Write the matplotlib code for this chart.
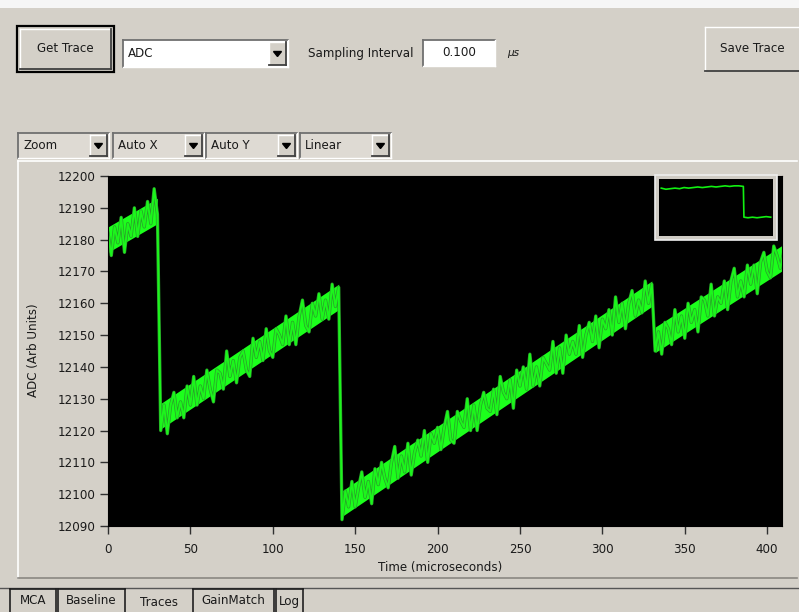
import numpy as np
import matplotlib
matplotlib.use("Agg")
import matplotlib.pyplot as plt
from matplotlib.patches import Rectangle, Polygon
from matplotlib.lines import Line2D

W, H = 799, 612
GREY = "#d4d0c8"

# ADC trace, one sample every 2 microseconds
time_us = np.arange(0, 411, 2)
adc = [
    12182, 12175, 12184, 12179, 12187, 12176, 12185, 12181, 12190, 12181,
    12189, 12184, 12192, 12185, 12196, 12188,
    # after first step
    12120, 12128, 12119, 12128, 12132, 12124, 12129, 12124, 12134, 12128,
    12137, 12128, 12134, 12130, 12139, 12133, 12129, 12139, 12138, 12133,
    12145, 12137, 12142, 12135, 12143, 12145, 12139, 12137, 12149, 12143,
    12148, 12142, 12152, 12145, 12143, 12152, 12150, 12147, 12156, 12147,
    12154, 12147, 12156, 12161, 12153, 12151, 12160, 12156, 12163, 12155,
    12161, 12155, 12166, 12159, 12165,
    # after second step
    12092, 12101, 12096, 12104, 12096, 12102, 12107, 12099, 12104, 12097,
    12108, 12103, 12110, 12105, 12102, 12110, 12115, 12105, 12112, 12107,
    12116, 12106, 12113, 12117, 12112, 12120, 12110, 12119, 12116, 12121,
    12114, 12121, 12126, 12117, 12116, 12126, 12123, 12121, 12130, 12120,
    12128, 12120, 12128, 12132, 12127, 12126, 12133, 12125, 12137, 12132,
    12130, 12136, 12127, 12139, 12134, 12140, 12133, 12144, 12134, 12140,
    12134, 12143, 12141, 12139, 12148, 12138, 12146, 12138, 12150, 12144,
    12148, 12144, 12153, 12143, 12150, 12154, 12148, 12156, 12146, 12155,
    12152, 12158, 12150, 12162, 12154, 12160, 12152, 12160, 12164, 12156,
    12161, 12157, 12167, 12160, 12166,
    # after third step
    12145, 12151, 12144, 12154, 12152, 12147, 12158, 12151, 12156, 12149,
    12160, 12154, 12158, 12151, 12162, 12161, 12156, 12166, 12156, 12162,
    12160, 12167, 12158, 12167, 12171, 12162, 12167, 12162, 12172, 12166,
    12172, 12163, 12173, 12176, 12170, 12168, 12178, 12175, 12171, 12176,
]

# solid core of the noisy band, start and end of each ramp
band_t = [0, 30, 32, 140, 142, 330, 332, 410]
band_lo = [12176, 12185, 12120.5, 12158, 12093, 12159, 12144.5, 12170.5]
band_hi = [12184, 12193, 12128.5, 12166, 12101, 12167, 12152.5, 12178.5]

y_ticks = [12090, 12100, 12110, 12120, 12130, 12140, 12150, 12160, 12170, 12180, 12190, 12200]
x_ticks = [0, 50, 100, 150, 200, 250, 300, 350, 400]

# little overview window (top right)
inset_t = [2, 6, 10, 14, 18, 22, 26, 30, 34, 38, 42, 46, 50, 54, 58, 62, 66, 70, 74,
           74.5, 78, 82, 86, 90, 94, 98]
inset_v = [84, 82, 83, 84, 83, 85, 84, 85, 86, 85, 86, 87, 86, 87, 88, 87, 88, 88, 87,
           33, 32, 33, 32, 33, 34, 33]

combo_labels = ["Zoom", "Auto X", "Auto Y", "Linear"]
combo_x = [18, 113, 206, 300]
tab_labels = ["MCA", "Baseline", "Traces", "GainMatch", "Log"]
tab_x = [10, 58, 127, 193, 276, 305]

plt.rcParams["font.family"] = ["DejaVu Sans"]
FS = 8.6

fig = plt.figure(figsize=(W / 100, H / 100), dpi=100, facecolor=GREY)


def frac(x, y, w, h):
    return (x / W, 1 - (y + h) / H, w / W, h / H)


def box(x, y, w, h, fc, ec="none", lw=1.0, z=1):
    l, b, ww, hh = frac(x, y, w, h)
    fig.add_artist(Rectangle((l, b), ww, hh, transform=fig.transFigure,
                             facecolor=fc, edgecolor=ec, linewidth=lw, zorder=z))


def line(x0, y0, x1, y1, c, lw=1.0, z=2):
    fig.add_artist(Line2D([x0 / W, x1 / W], [1 - y0 / H, 1 - y1 / H],
                          transform=fig.transFigure, color=c, lw=lw, zorder=z))


def text(x, y, s, ha="left", size=FS, **kw):
    fig.text(x / W, 1 - y / H, s, ha=ha, va="center", fontsize=size, color="#1a1a1a", **kw)


def raised(x, y, w, h, fc=GREY):
    box(x, y, w, h, fc)
    line(x, y, x + w, y, "white")
    line(x, y, x, y + h, "white")
    line(x, y + h, x + w, y + h, "#404040", 1.3)
    line(x + w, y, x + w, y + h, "#404040", 1.3)


def sunken(x, y, w, h, fc="white"):
    box(x, y, w, h, fc)
    line(x, y, x + w, y, "#707070", 1.3)
    line(x, y, x, y + h, "#707070", 1.3)
    line(x, y + h, x + w, y + h, "white")
    line(x + w, y, x + w, y + h, "white")


def arrow_button(x, y, w, h):
    raised(x, y, w, h)
    cx, cy = x + w / 2, y + h / 2
    pts = [((cx - 4) / W, 1 - (cy - 2) / H), ((cx + 4) / W, 1 - (cy - 2) / H),
           (cx / W, 1 - (cy + 3) / H)]
    fig.add_artist(Polygon(pts, closed=True, transform=fig.transFigure,
                           facecolor="black", edgecolor="black", zorder=3))


def combo(x, y, w, h, label, fc="white"):
    sunken(x, y, w, h, fc)
    arrow_button(x + w - 19, y + 2, 17, h - 4)
    text(x + 5, y + h / 2, label)


# white strip at the very top
box(0, 0, W, 8, "#f6f6f6")

# top row of controls
box(17, 26, 97, 46, "none", "black", 1.6)
raised(20, 29, 91, 40)
text(65, 49, "Get Trace", ha="center")
combo(123, 40, 165, 27, "ADC")
text(308, 53, "Sampling Interval")
sunken(423, 40, 72, 26)
text(459, 53, "0.100", ha="center")
text(507, 53, "µs", size=FS - 1, style="italic")
raised(705, 27, 96, 44)
text(752, 49, "Save Trace", ha="center")

# second row: zoom / scale combos
for cx, lab in zip(combo_x, combo_labels):
    combo(cx, 133, 91, 25, lab, fc="#dedad3")

# plot panel and tab strip
line(18, 161, 797, 161, "white", 1.2)
line(18, 161, 18, 578, "white", 1.2)
line(18, 578, 797, 578, "#8a8782", 1.2)
line(0, 588, W, 588, "#555555", 1.0)
for i, lab in enumerate(tab_labels):
    x0, x1 = tab_x[i], tab_x[i + 1] - 2
    if lab != "Traces":
        line(x0, 589, x0, 612, "#202020", 1.2)
        line(x1, 589, x1, 612, "#202020", 1.2)
        line(x0, 589, x1, 589, "#202020", 1.2)
        text((x0 + x1) / 2, 601, lab, ha="center")
    else:
        text((x0 + x1) / 2, 603, lab, ha="center")

# main trace: solid core band plus the noisy samples on top
ax = fig.add_axes(frac(108, 176, 674, 350))
ax.set_facecolor("black")
ax.plot(time_us, adc, color="#2a9e2a", lw=2.4)
for i in range(0, len(band_t), 2):
    ax.fill_between(band_t[i:i + 2], band_lo[i:i + 2], band_hi[i:i + 2],
                    color="#1cff1c", lw=0)
ax.plot(time_us, adc, color="#1cf51c", lw=1.4)
ax.set_xlim(0, 409)
ax.set_ylim(12090, 12200)
ax.set_xticks(x_ticks)
ax.set_yticks(y_ticks)
ax.tick_params(axis="both", direction="out", length=6, width=1, color="#303030",
               labelsize=FS, labelcolor="#1a1a1a")
ax.tick_params(axis="x", pad=6)
ax.tick_params(axis="y", pad=3)
for s in ax.spines.values():
    s.set_color("black")
text(33, 350, "ADC (Arb Units)", ha="center", rotation=90)
text(440, 567, "Time (microseconds)", ha="center")

# overview window
box(655, 175, 122, 65, "#cfcbc4", "#eeeeee", 1.2, z=5)
ins = fig.add_axes(frac(659, 179, 114, 57))
ins.set_zorder(6)
ins.set_facecolor("black")
ins.plot(inset_t, inset_v, color="#12f012", lw=1.2)
ins.set_xlim(0, 100)
ins.set_ylim(0, 100)
ins.set_xticks([])
ins.set_yticks([])
for s in ins.spines.values():
    s.set_visible(False)

fig.savefig("out.png", dpi=100, facecolor=GREY)
